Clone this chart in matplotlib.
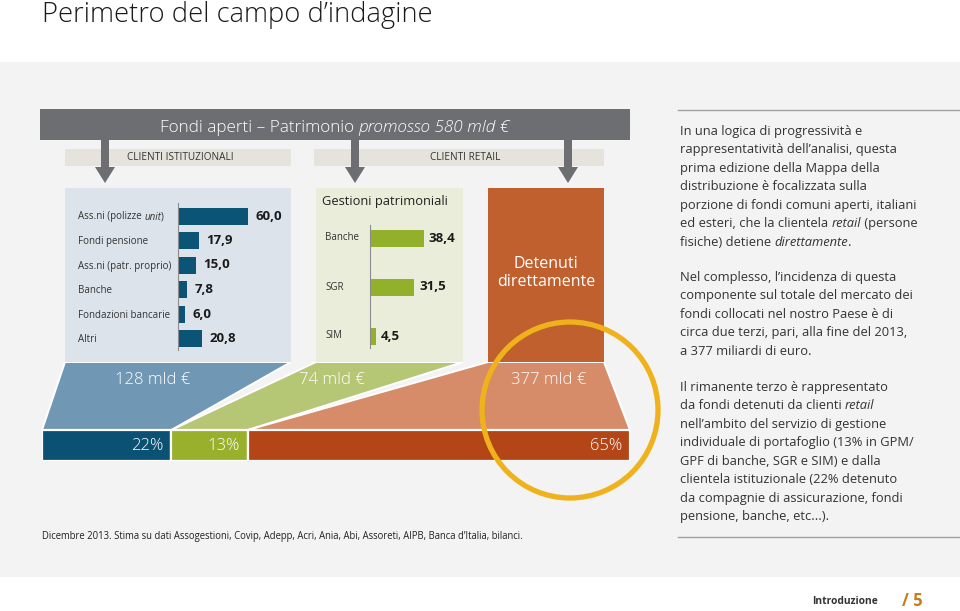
import matplotlib
matplotlib.use("Agg")
import matplotlib.pyplot as plt
from matplotlib.patches import Rectangle, Polygon, Circle
import numpy as np

plt.rcParams['font.family'] = ['Open Sans', 'DejaVu Sans']

# ---------------- data ----------------
inst_labels = [[("Ass.ni (polizze ", "normal"), ("unit", "italic"), (")", "normal")],
               "Fondi pensione", "Ass.ni (patr. proprio)",
               "Banche", "Fondazioni bancarie", "Altri"]
inst_values = [60.0, 17.9, 15.0, 7.8, 6.0, 20.8]

gp_labels = ["Banche", "SGR", "SIM"]
gp_values = [38.4, 31.5, 4.5]

seg_amounts = ["128 mld €", "74 mld €", "377 mld €"]
seg_shares = [22, 13, 65]

# ---------------- figure ----------------
W, H = 960, 611
fig = plt.figure(figsize=(W / 100, H / 100), dpi=100)
fig.patch.set_facecolor("white")
renderer = fig.canvas.get_renderer()


def rect(x0, y0, x1, y1):
    return [x0 / W, 1 - y1 / H, (x1 - x0) / W, (y1 - y0) / H]


def rich(ax, x, y, pieces, ha="left", fontsize=9, **kw):
    """Draw text pieces (string, style) side by side on a pixel-scaled axes."""
    base = y + 0.36 * fontsize * 100 / 72
    texts = []
    for s, st in pieces:
        t = ax.text(x, base, s, ha="left", va="baseline", fontstyle=st,
                    fontsize=fontsize, **kw)
        texts.append(t)
    widths = [t.get_window_extent(renderer).width for t in texts]
    total = sum(widths)
    start = x - total / 2 if ha == "center" else x
    cur = start
    for t, w in zip(texts, widths):
        t.set_x(cur)
        cur += w
    return texts


bg = fig.add_axes([0, 0, 1, 1])
bg.set_xlim(0, W)
bg.set_ylim(H, 0)
bg.axis("off")

DARK = "#6d6e71"
bg.add_patch(Rectangle((0, 62), W, 515, color="#f2f3f2", lw=0))
bg.add_patch(Rectangle((40, 109), 590, 31, color=DARK, lw=0))
bg.add_patch(Rectangle((65, 149), 226, 17, color="#e5e3dc", lw=0))
bg.add_patch(Rectangle((314, 149), 290, 17, color="#e5e3dc", lw=0))
# arrows
for ax_x in [105, 355, 568]:
    bg.add_patch(Polygon([(ax_x - 4, 140), (ax_x + 4, 140), (ax_x + 4, 167), (ax_x + 10, 167),
                          (ax_x, 183), (ax_x - 10, 167), (ax_x - 4, 167)], closed=True,
                         color=DARK, lw=0))
# panels
bg.add_patch(Rectangle((65, 188), 226, 174, color="#dce3eb", lw=0))
bg.add_patch(Rectangle((316, 188), 147, 174, color="#e9edd9", lw=0))
bg.add_patch(Rectangle((488, 188), 116, 174, color="#c1602f", lw=0))
# right rules
bg.plot([678, 960], [110, 110], color="#a0a0a0", lw=1)
bg.plot([678, 960], [537, 537], color="#a0a0a0", lw=1)

# ---------------- institutional bar chart ----------------
px_u1 = 1.167
row1 = 24.5
axb = fig.add_axes(rect(178, 216 - row1 / 2, 288, 216 + 5.5 * row1))
axb.set_xlim(0, 110 / px_u1)
axb.set_ylim(5.5, -0.5)
ypos = np.arange(len(inst_values))
axb.barh(ypos, inst_values, height=17 / row1, color="#0c5476")
axb.patch.set_visible(False)
for s in ["top", "right", "bottom"]:
    axb.spines[s].set_visible(False)
axb.spines["left"].set_color("#8c8c8c")
axb.spines["left"].set_linewidth(0.8)
axb.spines["left"].set_bounds(5.47, -0.53)
axb.set_xticks([])
axb.set_yticks([])
for i, v in enumerate(inst_values):
    axb.annotate(f"{v:.1f}".replace(".", ","), (v, i), xytext=(5.5, 0),
                 textcoords="offset points", ha="left", va="center",
                 fontsize=9.5, fontweight="bold", color="#1a1a1a", annotation_clip=False)

# ---------------- gestioni patrimoniali chart ----------------
px_u2 = 1.4
row2 = 49
axg = fig.add_axes(rect(370, 238 - row2 / 2, 460, 238 + 2.5 * row2))
axg.set_xlim(0, 90 / px_u2)
axg.set_ylim(2.5, -0.5)
yg = np.arange(len(gp_values))
axg.barh(yg, gp_values, height=17 / row2, color="#93b02a")
axg.patch.set_visible(False)
for s in ["top", "right", "bottom"]:
    axg.spines[s].set_visible(False)
axg.spines["left"].set_color("#8c8c8c")
axg.spines["left"].set_linewidth(0.8)
axg.spines["left"].set_bounds(2.24, -0.27)
axg.set_xticks([])
axg.set_yticks([])
for i, (lab, v) in enumerate(zip(gp_labels, gp_values)):
    axg.text((325 - 370) / px_u2, i, lab, ha="left", va="center", fontsize=7.0,
             color="#333333", clip_on=False)
    axg.annotate(f"{v:.1f}".replace(".", ","), (v, i), xytext=(3.5, 0),
                 textcoords="offset points", ha="left", va="center",
                 fontsize=9.5, fontweight="bold", color="#1a1a1a", annotation_clip=False)

# ---------------- funnel ----------------
FX0, FX1 = 42, 630
axf = fig.add_axes(rect(FX0, 362, FX1, 461))
axf.set_xlim(0, 100)
axf.set_ylim(461, 362)
axf.axis("off")


def pct(px):
    return (px - FX0) / (FX1 - FX0) * 100


lefts = np.concatenate([[0], np.cumsum(seg_shares)[:-1]])
rights = lefts + np.array(seg_shares)
tops = [(65, 291), (316, 463), (488, 604)]
trap_cols = ["#7097b3", "#b5c775", "#d68b69"]
bar_cols = ["#0b5173", "#98b02c", "#b34517"]
for (t0, t1), l, r, tc in zip(tops, lefts, rights, trap_cols):
    axf.add_patch(Polygon([(pct(t0), 362), (pct(t1), 362), (r, 430), (l, 430)], closed=True,
                          facecolor=tc, edgecolor="white", lw=1.4))
axf.barh([445.5], seg_shares, left=lefts, height=31, color=bar_cols,
         edgecolor="white", linewidth=1.6)

# ---------------- overlay: texts & circle ----------------
ov = fig.add_axes([0, 0, 1, 1])
ov.set_xlim(0, W)
ov.set_ylim(H, 0)
ov.axis("off")
ov.patch.set_visible(False)

ov.add_patch(Circle((570, 410), 88, fill=False, edgecolor="#f0b21c", lw=3.8))

# institutional category labels (pixel positions follow the bar rows)
for i, lab in enumerate(inst_labels):
    ypx = 216 + i * row1
    pieces = lab if isinstance(lab, list) else [(lab, "normal")]
    rich(ov, 78, ypx, pieces, fontsize=7.0, color="#333333")

ov.text(42, 15, "Perimetro del campo d’indagine", fontsize=19.7, color="#1a1a1a",
        ha="left", va="center", fontweight="light")
rich(ov, 335, 126, [("Fondi aperti – Patrimonio ", "normal"), ("promosso 580 mld €", "italic")],
     ha="center", fontsize=12.3, color="white", fontweight="light")
ov.text(180, 158, "CLIENTI ISTITUZIONALI", fontsize=7.2, color="#333333", ha="center", va="center")
ov.text(465, 158, "CLIENTI RETAIL", fontsize=7.2, color="#333333", ha="center", va="center")
ov.text(322, 201, "Gestioni patrimoniali", fontsize=9.3, color="#222222", ha="left", va="center")
ov.text(546, 273, "Detenuti\ndirettamente", fontsize=11.5, color="white", ha="center",
        va="center", linespacing=1.2)

for lab, cx in zip(seg_amounts, [153, 332, 549]):
    ov.text(cx, 380, lab, fontsize=12, color="white", ha="center", va="center",
            fontweight="light")
bar_right_px = [FX0 + r / 100 * (FX1 - FX0) for r in rights]
for s, rp in zip(seg_shares, bar_right_px):
    ov.text(rp - 8, 446, f"{s}%", fontsize=12, color="white", ha="right", va="center",
            fontweight="light")

ov.text(42, 536, "Dicembre 2013. Stima su dati Assogestioni, Covip, Adepp, Acri, Ania, Abi, "
        "Assoreti, AIPB, Banca d’Italia, bilanci.", fontsize=6.85, color="#222222",
        ha="left", va="center")

para = [
    (130, [("In una logica di progressività e", "normal")]),
    (148.5, [("rappresentatività dell’analisi, questa", "normal")]),
    (167, [("prima edizione della Mappa della", "normal")]),
    (185.5, [("distribuzione è focalizzata sulla", "normal")]),
    (204, [("porzione di fondi comuni aperti, italiani", "normal")]),
    (222.5, [("ed esteri, che la clientela ", "normal"), ("retail", "italic"),
             (" (persone", "normal")]),
    (241, [("fisiche) detiene ", "normal"), ("direttamente", "italic"), (".", "normal")]),
    (276, [("Nel complesso, l’incidenza di questa", "normal")]),
    (294.5, [("componente sul totale del mercato dei", "normal")]),
    (313, [("fondi collocati nel nostro Paese è di", "normal")]),
    (331.5, [("circa due terzi, pari, alla fine del 2013,", "normal")]),
    (350, [("a 377 miliardi di euro.", "normal")]),
    (386, [("Il rimanente terzo è rappresentato", "normal")]),
    (404.5, [("da fondi detenuti da clienti ", "normal"), ("retail", "italic")]),
    (423, [("nell’ambito del servizio di gestione", "normal")]),
    (441.5, [("individuale di portafoglio (13% in GPM/", "normal")]),
    (460, [("GPF di banche, SGR e SIM) e dalla", "normal")]),
    (478.5, [("clientela istituzionale (22% detenuto", "normal")]),
    (497, [("da compagnie di assicurazione, fondi", "normal")]),
    (515.5, [("pensione, banche, etc...).", "normal")]),
]
for y, pieces in para:
    rich(ov, 680, y, pieces, fontsize=9.25, color="#333333")

ov.text(812, 602, "Introduzione", fontsize=7.4, fontweight="bold", color="#333333",
        ha="left", va="center")
ov.text(902, 601, "/ 5", fontsize=12, fontweight="bold", color="#c47f1a", ha="left", va="center")

fig.savefig("out.png", dpi=100)
